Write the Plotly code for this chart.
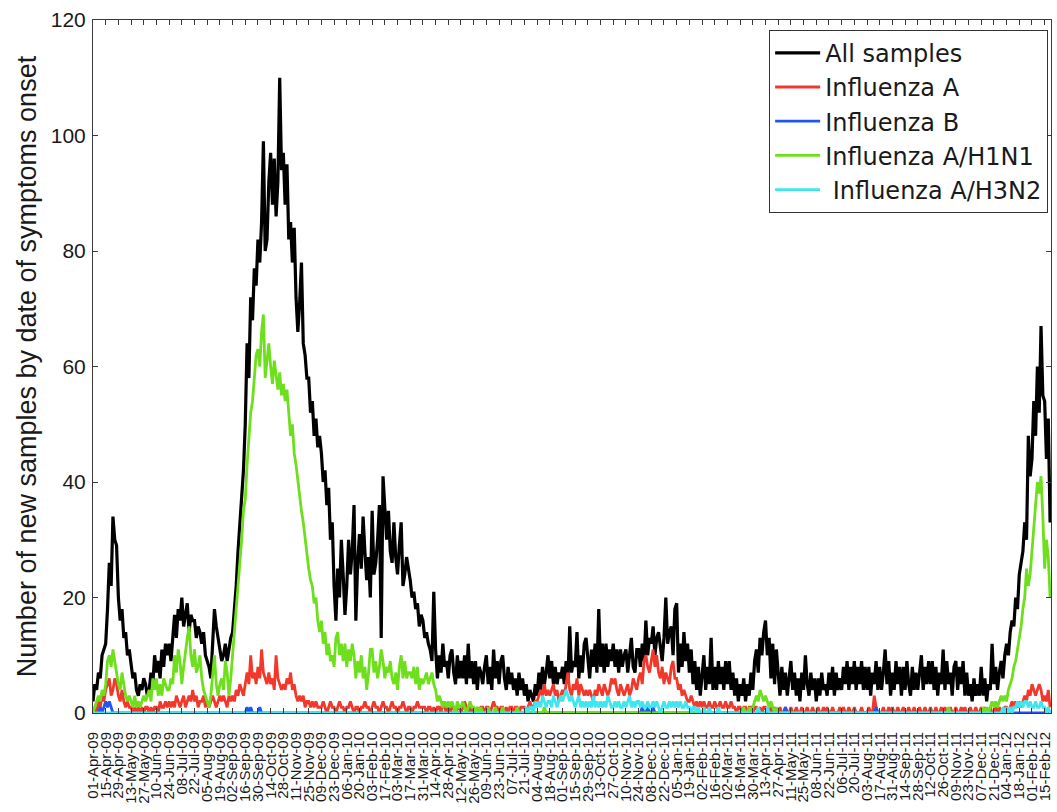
import pandas as pd
import plotly.graph_objects as go

# Daily-onset counts, sampled every second day from 01-Apr-2009
START = "2009-04-01"
STEP = "2D"

all_samples = [
    2, 5, 4, 7, 6, 10, 11,
    12, 18, 26, 22, 34, 30, 29,
    20, 16, 18, 13, 14, 10, 11,
    8, 6, 7, 4, 3, 5, 4,
    6, 5, 3, 4, 7, 5, 10,
    7, 9, 6, 11, 8, 12, 10,
    12, 9, 14, 17, 13, 18, 16,
    20, 15, 17, 19, 14, 17, 16,
    16, 13, 15, 14, 12, 14, 10,
    9, 8, 6, 12, 18, 15, 13,
    11, 9, 10, 12, 9, 11, 13,
    14, 18, 22, 28, 33, 36, 42,
    50, 64, 58, 72, 68, 77, 74,
    82, 78, 85, 99, 80, 82, 92,
    97, 88, 96, 86, 92, 110, 94,
    97, 88, 95, 82, 85, 78, 84,
    72, 66, 71, 78, 64, 62, 58,
    58, 52, 54, 48, 51, 46, 48,
    45, 40, 42, 36, 39, 30, 33,
    22, 16, 25, 20, 30, 24, 17,
    22, 30, 24, 28, 36, 16, 26,
    31, 25, 34, 28, 23, 27, 20,
    35, 24, 26, 30, 36, 13, 41,
    36, 30, 35, 28, 26, 33, 27,
    24, 29, 33, 22, 24, 27, 25,
    23, 20, 21, 18, 19, 15, 17,
    16, 13, 14, 12, 11, 9, 21,
    11, 6, 10, 7, 12, 8, 9,
    6, 10, 11, 7, 5, 10, 6,
    9, 6, 10, 5, 12, 6, 9,
    5, 9, 4, 8, 7, 5, 8,
    10, 5, 8, 4, 11, 6, 9,
    5, 9, 10, 6, 4, 8, 5,
    7, 4, 6, 3, 7, 4, 6,
    3, 5, 2, 4, 3, 2, 5,
    3, 7, 4, 8, 5, 7, 10,
    6, 9, 5, 8, 5, 7, 6,
    8, 5, 9, 6, 15, 7, 9,
    8, 14, 6, 10, 7, 12, 13,
    9, 6, 11, 8, 12, 7, 18,
    8, 12, 7, 12, 8, 11, 9,
    12, 8, 11, 7, 11, 8, 10,
    11, 7, 10, 13, 8, 7, 11,
    11, 8, 12, 9, 16, 10, 13,
    12, 15, 10, 13, 14, 11, 9,
    13, 20, 12, 14, 15, 10, 18,
    19, 7, 12, 8, 14, 9, 12,
    7, 11, 5, 9, 4, 8, 3,
    7, 10, 4, 8, 5, 13, 4,
    8, 4, 9, 5, 8, 4, 9,
    5, 9, 4, 7, 3, 6, 2,
    5, 3, 6, 2, 5, 3, 7,
    4, 9, 11, 7, 13, 10, 14,
    16, 10, 13, 6, 12, 5, 11,
    7, 3, 8, 4, 7, 3, 6,
    9, 4, 7, 3, 6, 2, 7,
    4, 10, 5, 3, 7, 4, 6,
    2, 6, 3, 7, 4, 5, 3,
    7, 4, 8, 3, 7, 4, 6,
    4, 8, 5, 9, 4, 8, 5,
    9, 4, 8, 5, 9, 4, 8,
    4, 8, 3, 7, 5, 9, 4,
    8, 4, 7, 11, 5, 9, 3,
    7, 4, 9, 5, 8, 3, 8,
    4, 9, 5, 3, 8, 4, 7,
    4, 7, 10, 4, 8, 5, 9,
    5, 9, 4, 8, 3, 7, 5,
    11, 4, 9, 5, 7, 3, 8,
    9, 4, 8, 5, 9, 3, 7,
    3, 5, 2, 6, 3, 5, 3,
    8, 3, 6, 2, 5, 4, 12,
    5, 8, 4, 7, 9, 6, 10,
    12, 10, 14, 16, 15, 20, 18,
    24, 26, 28, 33, 30, 48, 41,
    44, 54, 48, 60, 52, 67, 55,
    54, 44, 51, 33,
]

influenza_a = [
    0, 1, 0, 2, 1, 3, 2,
    4, 5, 6, 3, 4, 6, 5,
    3, 2, 4, 2, 1, 2, 1,
    1, 0, 1, 0, 1, 0, 1,
    0, 1, 1, 0, 1, 0, 1,
    1, 0, 2, 1, 1, 2, 1,
    2, 1, 2, 1, 3, 2, 1,
    2, 3, 1, 2, 3, 2, 4,
    2, 3, 1, 2, 2, 3, 1,
    2, 1, 2, 3, 2, 1, 2,
    3, 2, 3, 2, 1, 3, 2,
    3, 2, 4, 3, 5, 4, 3,
    5, 7, 5, 10, 6, 7, 5,
    8, 6, 11, 7, 6, 5, 7,
    5, 6, 4, 10, 6, 5, 4,
    5, 4, 6, 5, 7, 4, 5,
    3, 2, 3, 2, 3, 1, 2,
    2, 1, 2, 1, 2, 1, 1,
    1, 2, 1, 0, 1, 2, 1,
    1, 0, 1, 2, 1, 1, 0,
    1, 1, 2, 1, 0, 1, 1,
    0, 1, 1, 2, 1, 1, 0,
    1, 2, 1, 1, 0, 1, 2,
    1, 1, 0, 1, 2, 1, 1,
    0, 1, 1, 2, 1, 0, 1,
    1, 0, 1, 1, 2, 1, 1,
    1, 1, 0, 1, 1, 0, 1,
    0, 1, 1, 0, 2, 1, 0,
    1, 0, 1, 1, 0, 1, 1,
    0, 1, 2, 1, 0, 1, 0,
    1, 0, 1, 0, 1, 1, 0,
    1, 1, 0, 1, 2, 1, 1,
    0, 1, 1, 0, 1, 0, 1,
    1, 0, 1, 1, 0, 1, 1,
    1, 0, 1, 2, 1, 1, 2,
    2, 3, 4, 3, 5, 3, 4,
    3, 4, 5, 3, 4, 2, 3,
    4, 3, 5, 7, 4, 3, 5,
    4, 6, 3, 5, 4, 3, 4,
    3, 4, 3, 2, 4, 3, 5,
    4, 3, 5, 4, 3, 4, 6,
    5, 6, 4, 3, 5, 4, 3,
    4, 5, 3, 4, 6, 5, 4,
    6, 7, 5, 9, 10, 8, 7,
    9, 11, 8, 10, 7, 6, 8,
    5, 7, 6, 5, 8, 9, 6,
    6, 4, 5, 3, 4, 3, 2,
    2, 3, 2, 1, 2, 1, 2,
    1, 2, 1, 1, 2, 1, 1,
    2, 1, 1, 2, 1, 1, 2,
    1, 1, 2, 1, 1, 0, 1,
    1, 0, 1, 1, 0, 1, 1,
    0, 1, 1, 0, 1, 0, 1,
    1, 0, 0, 1, 0, 1, 0,
    0, 1, 0, 0, 1, 0, 0,
    1, 0, 0, 1, 0, 0, 1,
    0, 0, 1, 0, 0, 1, 0,
    0, 1, 0, 0, 1, 0, 1,
    0, 0, 1, 0, 0, 0, 1,
    0, 1, 0, 0, 1, 0, 0,
    1, 0, 0, 0, 1, 0, 0,
    0, 1, 0, 0, 3, 1, 0,
    0, 0, 1, 0, 0, 1, 0,
    1, 0, 0, 1, 0, 0, 1,
    0, 0, 1, 0, 0, 1, 0,
    0, 1, 0, 0, 1, 0, 0,
    1, 0, 0, 1, 0, 0, 1,
    0, 1, 0, 0, 1, 0, 0,
    1, 0, 0, 1, 0, 1, 0,
    0, 1, 0, 0, 1, 0, 0,
    1, 0, 1, 0, 0, 1, 0,
    0, 1, 0, 1, 0, 0, 1,
    1, 0, 1, 2, 1, 2, 1,
    2, 1, 2, 3, 2, 4, 3,
    5, 4, 3, 4, 5, 4, 2,
    3, 2, 4, 1,
]

influenza_b = [
    0, 0, 0, 0, 1, 0, 1,
    2, 1, 2, 1, 0, 0, 0,
    0, 0, 0, 0, 0, 0, 0,
    0, 0, 0, 0, 0, 0, 0,
    0, 0, 0, 0, 0, 0, 0,
    0, 0, 0, 0, 0, 0, 0,
    0, 0, 0, 0, 0, 0, 0,
    0, 0, 0, 0, 0, 0, 0,
    0, 0, 0, 0, 0, 0, 0,
    0, 0, 0, 0, 0, 0, 0,
    0, 0, 0, 0, 0, 0, 0,
    0, 0, 0, 0, 0, 0, 0,
    0, 1, 0, 1, 0, 0, 0,
    0, 1, 0, 0, 0, 0, 0,
    0, 0, 0, 0, 0, 0, 0,
    0, 0, 0, 0, 0, 0, 0,
    0, 0, 0, 0, 0, 0, 0,
    0, 0, 0, 0, 0, 0, 0,
    0, 0, 0, 0, 0, 0, 0,
    0, 0, 0, 0, 0, 0, 0,
    0, 0, 0, 0, 0, 0, 0,
    0, 0, 0, 0, 0, 0, 0,
    0, 0, 0, 0, 0, 0, 0,
    0, 0, 0, 0, 0, 0, 0,
    0, 0, 0, 0, 0, 0, 0,
    0, 0, 0, 0, 0, 0, 0,
    0, 0, 0, 0, 0, 0, 0,
    0, 0, 0, 0, 0, 0, 0,
    0, 0, 0, 0, 0, 0, 0,
    0, 0, 0, 0, 0, 0, 0,
    0, 0, 0, 0, 0, 0, 0,
    0, 0, 0, 0, 0, 0, 0,
    0, 0, 0, 0, 0, 0, 0,
    0, 0, 0, 0, 0, 0, 0,
    0, 0, 0, 0, 0, 0, 0,
    0, 0, 0, 0, 0, 0, 0,
    0, 0, 0, 0, 0, 0, 0,
    0, 0, 0, 0, 0, 0, 0,
    0, 0, 0, 0, 0, 0, 0,
    0, 0, 0, 0, 0, 0, 0,
    0, 0, 0, 0, 0, 0, 0,
    0, 0, 0, 0, 0, 0, 0,
    0, 0, 0, 0, 0, 0, 0,
    0, 0, 1, 0, 0, 1, 0,
    0, 1, 0, 0, 0, 0, 0,
    0, 0, 0, 0, 0, 0, 0,
    0, 0, 0, 0, 0, 0, 0,
    0, 0, 0, 0, 0, 0, 0,
    0, 0, 0, 0, 0, 0, 0,
    0, 0, 0, 0, 0, 0, 0,
    0, 0, 0, 0, 0, 0, 0,
    0, 0, 0, 0, 0, 0, 0,
    0, 0, 0, 0, 0, 0, 0,
    0, 0, 0, 0, 0, 0, 0,
    0, 0, 0, 0, 1, 0, 0,
    0, 0, 0, 0, 0, 0, 0,
    0, 0, 0, 0, 0, 0, 0,
    0, 0, 0, 0, 0, 0, 0,
    0, 0, 0, 0, 0, 0, 0,
    0, 0, 0, 0, 0, 0, 0,
    0, 0, 0, 0, 0, 0, 0,
    0, 0, 0, 0, 0, 1, 0,
    0, 0, 0, 0, 0, 0, 0,
    0, 0, 0, 0, 0, 0, 0,
    0, 0, 0, 0, 0, 0, 0,
    0, 0, 0, 0, 0, 0, 0,
    0, 0, 0, 0, 0, 0, 0,
    0, 0, 0, 0, 0, 0, 0,
    0, 0, 0, 0, 0, 0, 0,
    0, 0, 0, 0, 0, 0, 0,
    0, 0, 0, 0, 0, 0, 0,
    0, 0, 0, 0, 0, 0, 0,
    0, 0, 0, 0, 0, 0, 0,
    0, 0, 0, 0, 0, 0, 0,
    0, 0, 0, 0, 0, 0, 0,
    0, 0, 0, 0,
]

influenza_h1n1 = [
    0, 1, 2, 3, 2, 4, 3,
    5, 9, 10, 8, 11, 9, 7,
    5, 4, 7, 5, 3, 2, 3,
    2, 1, 3, 1, 2, 1, 2,
    3, 2, 3, 4, 2, 6, 4,
    6, 3, 5, 3, 6, 5, 4,
    4, 6, 5, 10, 7, 11, 9,
    5, 8, 11, 13, 15, 10, 8,
    11, 7, 8, 10, 6, 4, 3,
    2, 1, 3, 6, 10, 5, 3,
    5, 6, 4, 9, 7, 3, 6,
    10, 13, 17, 21, 26, 30, 35,
    37, 43, 47, 52, 54, 58, 62,
    63, 60, 66, 69, 58, 61, 64,
    60, 57, 61, 58, 56, 59, 55,
    57, 54, 56, 52, 48, 50, 45,
    43, 40, 38, 35, 33, 30, 27,
    25, 23, 22, 19, 20, 16, 14,
    16, 12, 14, 10, 12, 9, 10,
    8, 13, 14, 10, 12, 9, 12,
    8, 11, 9, 12, 10, 6, 9,
    7, 10, 6, 8, 4, 7, 11,
    11, 7, 9, 6, 8, 11, 9,
    6, 8, 7, 9, 6, 5, 7,
    4, 8, 10, 6, 9, 6, 7,
    7, 6, 8, 5, 8, 4, 6,
    5, 6, 7, 5, 6, 7, 5,
    4, 2, 3, 2, 1, 2, 1,
    2, 1, 2, 1, 0, 2, 1,
    1, 2, 1, 0, 1, 2, 1,
    1, 0, 1, 0, 1, 0, 0,
    0, 1, 0, 0, 0, 1, 0,
    0, 0, 1, 0, 0, 0, 0,
    0, 0, 0, 1, 0, 0, 0,
    0, 0, 0, 0, 0, 0, 0,
    0, 0, 0, 0, 1, 0, 0,
    0, 0, 0, 0, 0, 0, 0,
    0, 0, 0, 0, 0, 0, 0,
    0, 0, 0, 0, 0, 0, 0,
    0, 0, 0, 0, 0, 0, 0,
    0, 0, 0, 0, 0, 0, 0,
    0, 0, 0, 0, 0, 0, 0,
    0, 0, 0, 0, 0, 0, 0,
    0, 0, 0, 0, 0, 0, 0,
    0, 0, 0, 0, 0, 0, 0,
    0, 0, 0, 0, 0, 0, 0,
    0, 0, 0, 0, 0, 0, 0,
    0, 0, 0, 0, 0, 0, 0,
    0, 0, 0, 0, 0, 0, 0,
    0, 0, 0, 0, 0, 0, 0,
    0, 0, 0, 0, 0, 0, 0,
    0, 0, 1, 0, 0, 1, 0,
    1, 2, 3, 2, 4, 3, 2,
    3, 2, 1, 2, 1, 0, 1,
    0, 0, 0, 0, 0, 0, 0,
    0, 0, 0, 0, 0, 0, 0,
    0, 0, 0, 0, 0, 0, 0,
    0, 0, 0, 0, 0, 0, 0,
    0, 0, 0, 0, 0, 0, 0,
    0, 0, 0, 0, 0, 0, 0,
    0, 0, 0, 0, 0, 0, 0,
    0, 0, 0, 0, 0, 0, 0,
    0, 0, 0, 0, 0, 0, 0,
    0, 0, 0, 0, 0, 0, 0,
    0, 0, 0, 0, 0, 0, 0,
    0, 0, 0, 0, 0, 0, 0,
    0, 0, 0, 0, 0, 0, 0,
    0, 0, 0, 1, 0, 0, 0,
    0, 0, 0, 0, 0, 0, 0,
    0, 0, 0, 0, 0, 0, 0,
    0, 1, 0, 1, 0, 1, 2,
    1, 2, 1, 2, 3, 2, 3,
    2, 4, 5, 6, 8, 9, 11,
    13, 15, 18, 20, 25, 22, 24,
    28, 31, 36, 40, 38, 41, 34,
    25, 30, 27, 20,
]

influenza_h3n2 = [
    0, 0, 0, 0, 0, 0, 0,
    0, 0, 0, 0, 0, 0, 0,
    0, 0, 0, 0, 0, 0, 0,
    0, 0, 0, 0, 0, 0, 0,
    0, 0, 0, 0, 0, 0, 0,
    0, 0, 0, 0, 0, 0, 0,
    0, 0, 0, 0, 0, 0, 0,
    0, 0, 0, 0, 0, 0, 0,
    0, 0, 0, 0, 0, 0, 0,
    0, 0, 0, 0, 0, 0, 0,
    0, 0, 0, 0, 0, 0, 0,
    0, 0, 0, 0, 0, 0, 0,
    0, 0, 0, 0, 0, 0, 0,
    0, 0, 0, 0, 0, 0, 0,
    0, 0, 0, 0, 0, 0, 0,
    0, 0, 0, 0, 0, 0, 0,
    0, 0, 0, 0, 0, 0, 0,
    0, 0, 0, 0, 0, 0, 0,
    0, 0, 0, 0, 0, 0, 0,
    0, 0, 0, 0, 0, 0, 0,
    0, 0, 0, 0, 0, 0, 0,
    0, 0, 0, 0, 0, 0, 0,
    0, 0, 0, 0, 0, 0, 0,
    0, 0, 0, 0, 0, 0, 0,
    0, 0, 0, 0, 0, 0, 0,
    0, 0, 0, 0, 0, 0, 0,
    0, 0, 0, 0, 0, 0, 0,
    0, 0, 0, 0, 0, 0, 0,
    0, 0, 0, 0, 0, 0, 0,
    0, 0, 0, 0, 0, 0, 0,
    0, 0, 0, 0, 0, 0, 0,
    0, 0, 0, 0, 0, 0, 0,
    0, 0, 0, 0, 0, 0, 0,
    0, 0, 0, 0, 0, 0, 0,
    0, 1, 0, 1, 1, 0, 2,
    1, 2, 1, 3, 2, 1, 2,
    2, 1, 3, 2, 1, 2, 3,
    2, 3, 4, 3, 2, 3, 2,
    1, 2, 3, 1, 2, 1, 2,
    1, 2, 1, 3, 1, 2, 1,
    2, 1, 2, 1, 3, 2, 1,
    1, 2, 1, 2, 1, 1, 2,
    1, 2, 3, 1, 2, 1, 2,
    2, 1, 2, 1, 1, 2, 1,
    1, 2, 1, 2, 1, 0, 1,
    2, 1, 1, 2, 1, 2, 1,
    2, 1, 2, 1, 1, 2, 1,
    1, 0, 1, 1, 0, 1, 0,
    0, 1, 0, 0, 1, 0, 0,
    0, 0, 1, 0, 0, 0, 0,
    0, 0, 0, 0, 0, 0, 0,
    0, 0, 0, 0, 0, 0, 0,
    0, 0, 0, 1, 0, 0, 0,
    0, 1, 0, 0, 0, 0, 0,
    0, 0, 0, 0, 0, 0, 0,
    0, 0, 0, 0, 0, 0, 0,
    0, 0, 0, 0, 0, 0, 0,
    0, 0, 0, 0, 0, 0, 0,
    0, 0, 0, 0, 0, 0, 0,
    0, 0, 0, 0, 0, 0, 0,
    0, 0, 0, 0, 0, 0, 0,
    0, 0, 0, 0, 0, 0, 0,
    0, 0, 0, 0, 0, 0, 0,
    0, 0, 0, 0, 0, 0, 0,
    0, 0, 0, 0, 0, 0, 0,
    0, 0, 0, 0, 0, 0, 0,
    0, 0, 0, 0, 0, 0, 0,
    0, 0, 0, 0, 0, 0, 0,
    0, 0, 0, 0, 0, 0, 0,
    0, 0, 0, 0, 0, 0, 0,
    0, 0, 0, 0, 0, 0, 0,
    0, 0, 0, 0, 0, 1, 0,
    1, 0, 1, 0, 1, 1, 2,
    1, 2, 1, 2, 2, 1, 2,
    1, 1, 2, 1, 1, 2, 1,
    1, 0, 1, 0,
]

series = [
    ("All samples", all_samples, "#000000", 3.2),
    ("Influenza A", influenza_a, "#f2382a", 2.8),
    ("Influenza B", influenza_b, "#2356f0", 2.8),
    ("Influenza A/H1N1", influenza_h1n1, "#6ddf1c", 2.8),
    (" Influenza A/H3N2", influenza_h3n2, "#3fe6ef", 2.8),
]

fig = go.Figure()
for name, values, color, width in series:
    dates = pd.date_range(START, periods=len(values), freq=STEP)
    fig.add_trace(go.Scatter(
        x=dates, y=values, mode="lines", name=name,
        line=dict(color=color, width=width),
    ))

axis_common = dict(
    showline=True, linecolor="#3a3a3a", linewidth=1,
    mirror="allticks", ticks="inside", ticklen=5,
    tickcolor="#3a3a3a", showgrid=False, zeroline=False,
)

fig.update_layout(
    width=1057, height=812,
    margin=dict(l=93, r=4, t=20, b=99),
    paper_bgcolor="white", plot_bgcolor="white",
    font=dict(family="Liberation Sans, Arial, sans-serif", color="#1a1a1a"),
    xaxis=dict(
        type="date",
        range=["2009-04-01", "2012-02-22"],
        tick0="2009-04-01", dtick=14 * 86400000,
        tickformat="%d-%b-%y", tickangle=-90,
        tickfont=dict(size=15),
        ticklabelstandoff=12,
        **axis_common,
    ),
    yaxis=dict(
        range=[0, 120], dtick=20,
        tickfont=dict(size=21),
        ticklabelstandoff=2,
        title=dict(text="Number of new samples by date of symptoms onset",
                   font=dict(size=27), standoff=6),
        **axis_common,
    ),
    legend=dict(
        x=0.997, y=0.986, xanchor="right", yanchor="top",
        font=dict(size=24, family="DejaVu Sans, Liberation Sans, sans-serif"),
        bgcolor="white", itemwidth=45,
        bordercolor="#333333", borderwidth=1,
    ),
    showlegend=True,
)

fig.write_html("out.html")
